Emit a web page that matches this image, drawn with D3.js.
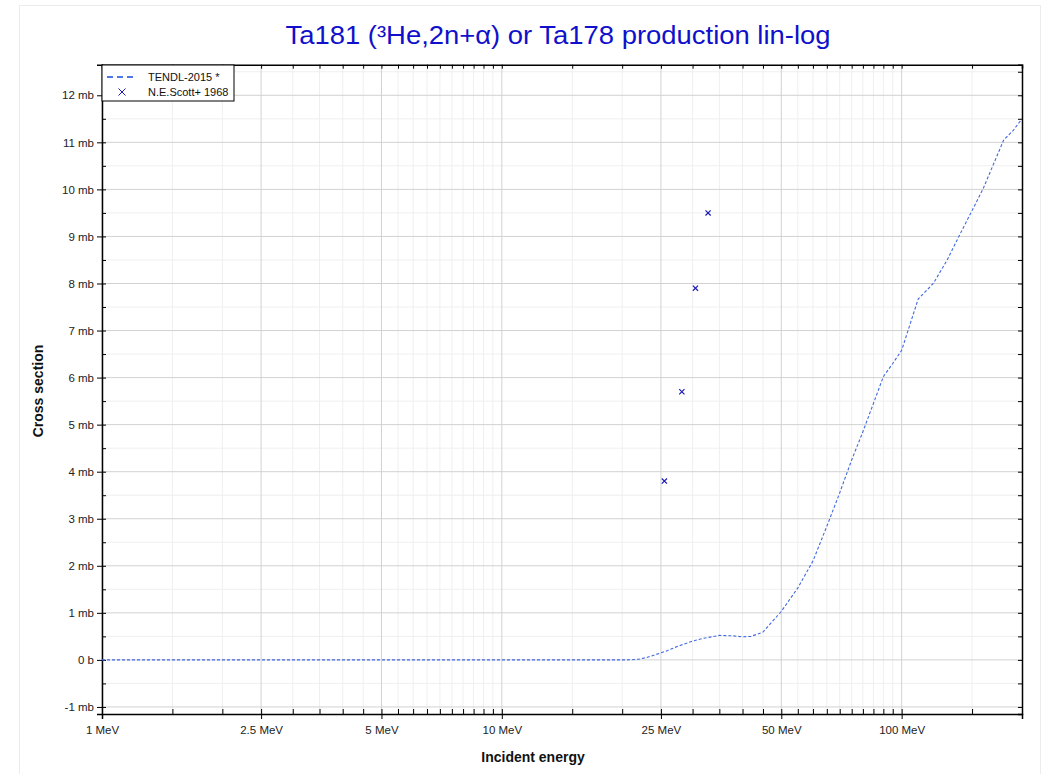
<!DOCTYPE html>
<html><head><meta charset="utf-8">
<script src="https://cdn.jsdelivr.net/npm/d3@7/dist/d3.min.js"></script>
<style>
body{margin:0;background:#fff;}
svg text{font-family:"Liberation Sans",Arial,Helvetica,sans-serif;}
</style>
</head><body>
<svg id="chart" width="1053" height="774"></svg>
<script>
// ---- data ----
const chartTitle = "Ta181 (\u00B3He,2n+\u03B1) or Ta178 production lin-log";
const xAxisTitle = "Incident energy";
const yAxisTitle = "Cross section";

const tendlLabel = "TENDL-2015 *";
const tendlEnergy = [1, 2, 5, 10, 15, 20, 21, 22, 23, 24, 25, 26, 27, 28, 30, 32, 35, 38, 40, 42, 45, 50, 55, 60, 65, 70, 75, 80, 85, 90, 95, 100, 110, 120, 130, 140, 150, 160, 170, 180, 190, 200];
const tendlXs     = [0, 0, 0, 0, 0, 0, 0.002, 0.015, 0.05, 0.1, 0.15, 0.2, 0.26, 0.31, 0.4, 0.46, 0.52, 0.51, 0.49, 0.5, 0.59, 1.03, 1.53, 2.1, 2.84, 3.55, 4.25, 4.85, 5.45, 6.02, 6.3, 6.58, 7.67, 8.0, 8.5, 9.05, 9.55, 10.02, 10.55, 11.05, 11.25, 11.5];

const scottLabel = "N.E.Scott+ 1968";
const scottEnergy = [25.5, 28.2, 30.5, 32.8];
const scottXs     = [3.8, 5.7, 7.9, 9.5];

const xMajorTicks = [1, 2.5, 5, 10, 25, 50, 100];
const xTickLabels = ["1 MeV", "2.5 MeV", "5 MeV", "10 MeV", "25 MeV", "50 MeV", "100 MeV"];
const xMinorTicks = [1.5, 2, 3, 3.5, 4, 4.5, 5.5, 6, 6.5, 7, 7.5, 8, 8.5, 9, 9.5, 15, 20, 30, 35, 40, 45, 55, 60, 65, 70, 75, 80, 85, 90, 95, 150];
const yMajorTicks = [-1, 0, 1, 2, 3, 4, 5, 6, 7, 8, 9, 10, 11, 12];
const yTickLabels = ["-1 mb", "0 b", "1 mb", "2 mb", "3 mb", "4 mb", "5 mb", "6 mb", "7 mb", "8 mb", "9 mb", "10 mb", "11 mb", "12 mb"];
const yMinorTicks = [-0.5, 0.5, 1.5, 2.5, 3.5, 4.5, 5.5, 6.5, 7.5, 8.5, 9.5, 10.5, 11.5, 12.5];

// ---- layout ----
const L = 102, R = 1022, T = 64.7, B = 714;
const svg = d3.select("#chart");

svg.append("rect").attr("x", 19.5).attr("y", 5.5).attr("width", 1021).attr("height", 800)
  .attr("fill", "#fff").attr("stroke", "#ececec");

const x = d3.scaleLog().domain([1, 200]).range([L, R]);
const y = d3.scaleLinear().domain([-1.15, 12.65]).range([B, T]);

// grid
const g = svg.append("g");
g.selectAll(".vmin").data(xMinorTicks).join("line")
  .attr("x1", d => x(d)).attr("x2", d => x(d)).attr("y1", T).attr("y2", B)
  .attr("stroke", "#efefef").attr("stroke-width", 1);
g.selectAll(".hmin").data(yMinorTicks).join("line")
  .attr("x1", L).attr("x2", R).attr("y1", d => y(d)).attr("y2", d => y(d))
  .attr("stroke", "#efefef").attr("stroke-width", 1);
g.selectAll(".vmaj").data(xMajorTicks).join("line")
  .attr("x1", d => x(d)).attr("x2", d => x(d)).attr("y1", T).attr("y2", B)
  .attr("stroke", "#d2d2d2").attr("stroke-width", 1);
g.selectAll(".hmaj").data(yMajorTicks).join("line")
  .attr("x1", L).attr("x2", R).attr("y1", d => y(d)).attr("y2", d => y(d))
  .attr("stroke", "#d2d2d2").attr("stroke-width", 1);

// axes via d3
const fmtX = d => xTickLabels[xMajorTicks.indexOf(d)];
const fmtY = d => yTickLabels[yMajorTicks.indexOf(d)];

function styleAxis(sel) {
  sel.select(".domain").attr("stroke", "#000").attr("stroke-width", 1.5);
  sel.selectAll(".tick line").attr("stroke", "#000").attr("stroke-width", 1);
  sel.selectAll(".tick text").attr("fill", "#222").attr("font-size", 11.5);
}

// bottom axis major (crossing)
const bx = svg.append("g").attr("transform", `translate(0,${B})`)
  .call(d3.axisBottom(x).tickValues(xMajorTicks).tickFormat(fmtX).tickSizeOuter(0).tickSize(5).tickPadding(7));
styleAxis(bx);
bx.selectAll(".tick line").attr("y1", -5);
// bottom minor (inward)
svg.append("g").attr("transform", `translate(0,${B})`)
  .call(d3.axisBottom(x).tickValues(xMinorTicks).tickFormat("").tickSizeOuter(0).tickSize(-5))
  .call(s => { s.select(".domain").remove(); s.selectAll("line").attr("stroke", "#000"); });

// top axis ticks (inward)
const tx = svg.append("g").attr("transform", `translate(0,${T})`)
  .call(d3.axisTop(x).tickValues(xMajorTicks.concat(xMinorTicks)).tickFormat("").tickSizeOuter(0).tickSize(-4));
tx.select(".domain").attr("stroke", "#000").attr("stroke-width", 1.5);
tx.selectAll("line").attr("stroke", "#000");

// left axis major (crossing)
const ly = svg.append("g").attr("transform", `translate(${L},0)`)
  .call(d3.axisLeft(y).tickValues(yMajorTicks).tickFormat(fmtY).tickSizeOuter(0).tickSize(5).tickPadding(3));
styleAxis(ly);
ly.selectAll(".tick line").attr("x1", 4);
svg.append("g").attr("transform", `translate(${L},0)`)
  .call(d3.axisLeft(y).tickValues(yMinorTicks).tickFormat("").tickSizeOuter(0).tickSize(-4))
  .call(s => { s.select(".domain").remove(); s.selectAll("line").attr("stroke", "#000"); });

// right axis ticks (inward)
const ry = svg.append("g").attr("transform", `translate(${R},0)`)
  .call(d3.axisRight(y).tickValues(yMajorTicks.concat(yMinorTicks)).tickFormat("").tickSizeOuter(0).tickSize(-4));
ry.select(".domain").attr("stroke", "#000").attr("stroke-width", 1.5);
ry.selectAll("line").attr("stroke", "#000");

// clip
svg.append("clipPath").attr("id", "plotclip").append("rect")
  .attr("x", L).attr("y", T).attr("width", R - L).attr("height", B - T);

// TENDL curve
const tendl = tendlEnergy.map((e, i) => [e, tendlXs[i]]);
svg.append("path").datum(tendl)
  .attr("clip-path", "url(#plotclip)")
  .attr("d", d3.line().x(d => x(d[0])).y(d => y(d[1])))
  .attr("fill", "none").attr("stroke", "#4169e1").attr("stroke-width", 1.1)
  .attr("stroke-dasharray", "3,2");

// Scott points
const scott = scottEnergy.map((e, i) => [e, scottXs[i]]);
const mk = svg.append("g").selectAll("g").data(scott).join("g")
  .attr("transform", d => `translate(${x(d[0])},${y(d[1])})`);
mk.append("path").attr("d", "M-2.6,-2.6L2.6,2.6M-2.6,2.6L2.6,-2.6")
  .attr("stroke", "#1a1ab8").attr("stroke-width", 1.2).attr("fill", "none");

// titles
svg.append("text").attr("x", 558).attr("y", 44).attr("text-anchor", "middle")
  .attr("fill", "#1010cc").attr("font-size", 26)
  .attr("textLength", 545).attr("lengthAdjust", "spacingAndGlyphs").text(chartTitle);
svg.append("text").attr("x", 533).attr("y", 762).attr("text-anchor", "middle")
  .attr("fill", "#111").attr("font-size", 14).attr("font-weight", "bold").text(xAxisTitle);
svg.append("text").attr("transform", "translate(43,391) rotate(-90)").attr("text-anchor", "middle")
  .attr("fill", "#111").attr("font-size", 14).attr("font-weight", "bold").text(yAxisTitle);

// legend
const lg = svg.append("g");
lg.append("rect").attr("x", 102).attr("y", 65).attr("width", 132).attr("height", 36)
  .attr("fill", "#fff").attr("stroke", "#000").attr("stroke-width", 1);
lg.append("line").attr("x1", 107).attr("x2", 133).attr("y1", 77).attr("y2", 77)
  .attr("stroke", "#5077e6").attr("stroke-width", 1.8).attr("stroke-dasharray", "6,4");
lg.append("text").attr("x", 148).attr("y", 81).attr("font-size", 11).attr("fill", "#111").text(tendlLabel);
lg.append("path").attr("transform", "translate(122,92)").attr("d", "M-3.5,-3.5L3.5,3.5M-3.5,3.5L3.5,-3.5")
  .attr("stroke", "#1a1ab8").attr("stroke-width", 1).attr("fill", "none");
lg.append("text").attr("x", 148).attr("y", 96).attr("font-size", 11).attr("fill", "#111").text(scottLabel);
</script>
</body></html>
